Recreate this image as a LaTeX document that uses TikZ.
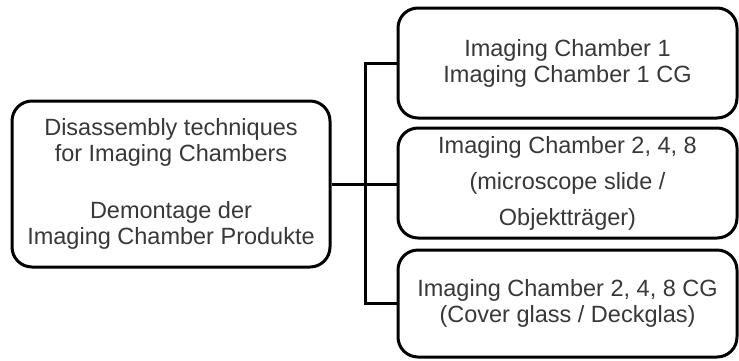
\documentclass[tikz,border=0pt]{standalone}
\usepackage{fontspec}
\setmainfont{Liberation Sans}
\definecolor{labelgray}{HTML}{383838}
\begin{document}
\begin{tikzpicture}[x=1pt,y=-1pt,
  box/.style={draw=black, line width=3pt, rounded corners=20pt, fill=white,
    align=center, inner sep=0pt, text=labelgray,
    font=\fontsize{23.5}{26}\selectfont},
  link/.style={draw=black, line width=3pt}]
\useasboundingbox (0,0) rectangle (739,360);

% root topic
\node[box, minimum width=318pt, minimum height=166pt] (root) at (171,184)
  {Disassembly techniques\\for Imaging Chambers\\[31pt]Demontage der\\Imaging Chamber Produkte};

% product branches
\node[box, minimum width=339pt, minimum height=110pt] (ic1) at (567.5,63)
  {Imaging Chamber 1\\Imaging Chamber 1 CG};
\node[box, minimum width=339pt, minimum height=110pt,
      font=\fontsize{23.5}{36}\selectfont] (ic248) at (567.5,183)
  {Imaging Chamber 2, 4, 8\\(microscope slide /\\Objektträger)};
\node[box, minimum width=339pt, minimum height=107pt] (ic248cg) at (567.5,303.5)
  {Imaging Chamber 2, 4, 8 CG\\(Cover glass / Deckglas)};

% connectors
\coordinate (bus) at (365,0);
\draw[link] (root.east) -- (root.east -| ic248.west);
\draw[link] (ic1.west) -- (ic1.west -| bus) -- (ic248cg.west -| bus) -- (ic248cg.west);
\end{tikzpicture}
\end{document}
